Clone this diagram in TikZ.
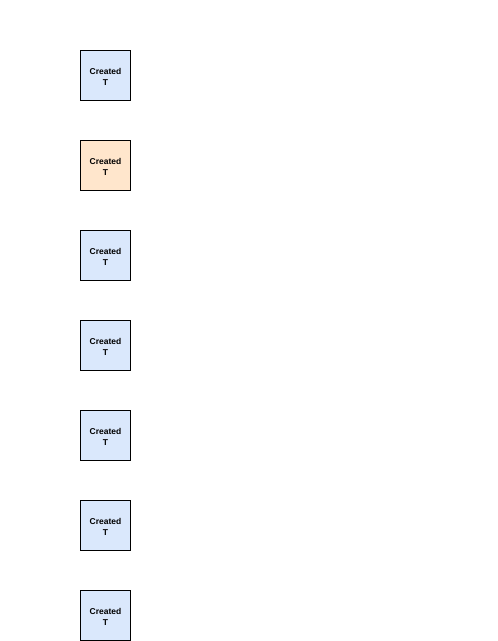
\documentclass[tikz,border=0pt]{standalone}
\usepackage{fontspec}
\setmainfont{Liberation Sans}
\usepackage{tikz}

\definecolor{boxblue}{HTML}{DAE8FC}
\definecolor{boxorange}{HTML}{FFE6CC}

\begin{document}
\begin{tikzpicture}[x=1pt, y=-1pt, line width=0.75pt]
  \tikzstyle{state}=[draw, align=center, inner sep=0pt,
    minimum width=50pt, minimum height=50pt,
    text height=20pt, text depth=0pt,
    font=\bfseries\fontsize{8.5}{11}\selectfont, fill=boxblue]
  \tikzstyle{current}=[fill=boxorange]

  % canvas
  \useasboundingbox (0,0) rectangle (498,641);

  % column of created states
  \foreach \i in {1,...,7} {
    \ifnum\i=2
      \node[state, current] (ct\i) at (105.5, {75+90*(\i-1)}) {Created\\T};
    \else
      \node[state] (ct\i) at (105.5, {75+90*(\i-1)}) {Created\\T};
    \fi
  }
\end{tikzpicture}
\end{document}
